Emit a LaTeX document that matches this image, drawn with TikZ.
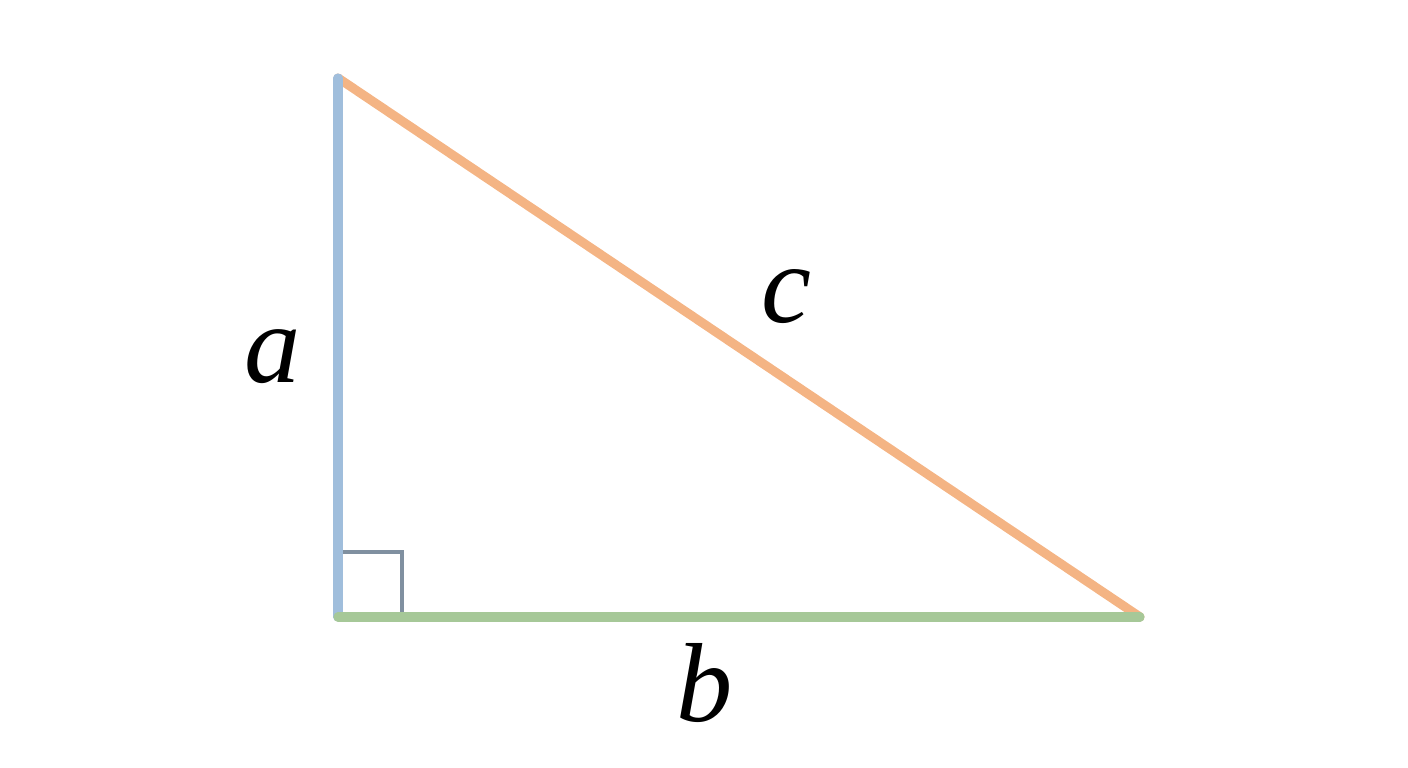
\documentclass[tikz,border=0pt]{standalone}
\usepackage{fontspec}
\setmainfont{Liberation Serif}
\definecolor{legA}{RGB}{160,190,220}
\definecolor{legB}{RGB}{166,200,152}
\definecolor{hyp}{RGB}{244,180,132}
\definecolor{rightmark}{RGB}{128,144,160}
\begin{document}
\begin{tikzpicture}[side/.style={line width=2.6pt, line cap=round}, label/.style={font=\fontsize{32}{38}\selectfont\itshape, inner sep=0pt} ]
		\useasboundingbox (0,0) rectangle (14.08,7.68);
		\coordinate (T) at (3.38, 6.90);
		\coordinate (O) at (3.38, 1.51);
		\coordinate (R) at (11.40, 1.51);
		\draw[rightmark, line width=1.1pt] ([yshift=0.65cm]O) -| ([xshift=0.64cm]O);
		\draw[side, hyp] (T) -- (R);
		\draw[side, legA] (O) -- (T);
		\draw[side, legB] (O) -- (R);

		\node[label] (a) at (2.73, 4.11) {a};
		\node[label] (b) at (7.05, 0.85) {b};
		\node[label] (c) at (7.86, 4.71) {c};
	\end{tikzpicture}
\end{document}
